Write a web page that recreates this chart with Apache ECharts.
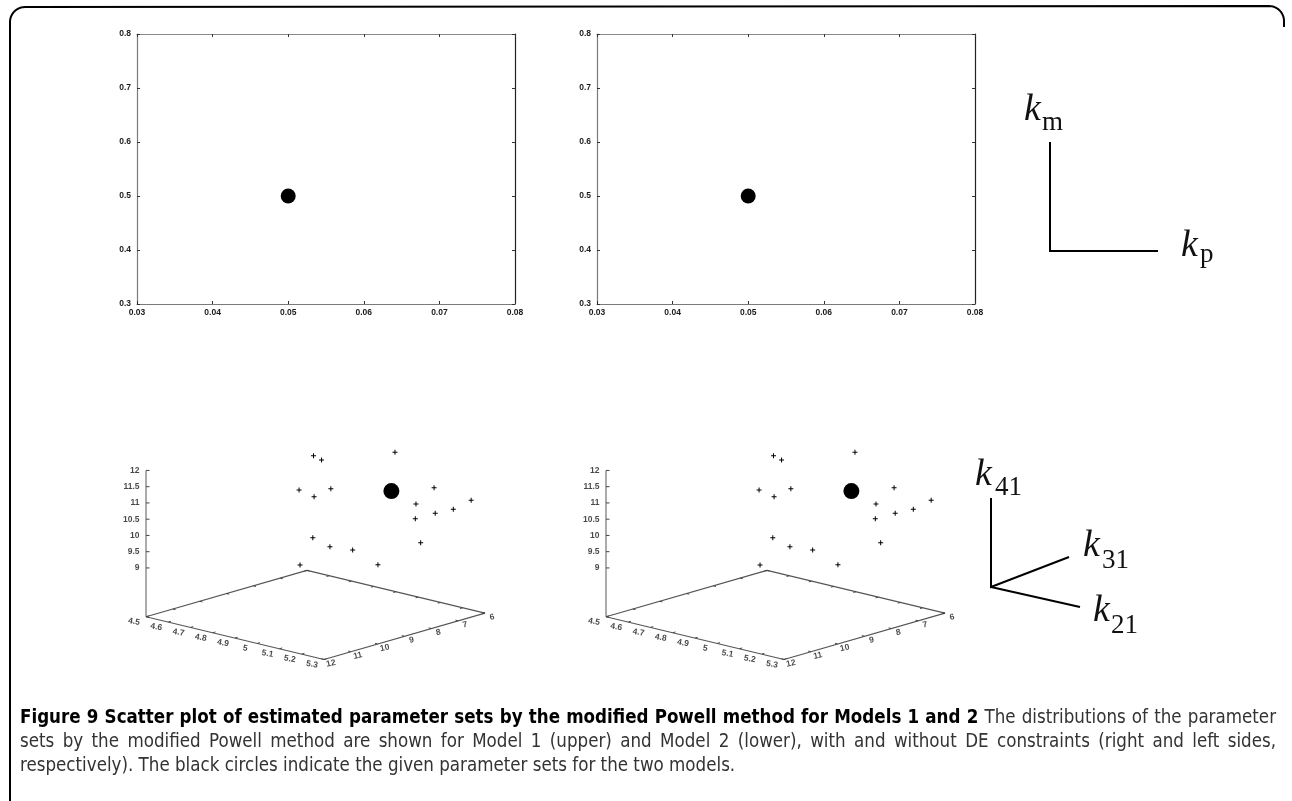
<!DOCTYPE html>
<html><head><meta charset="utf-8">
<script src="https://cdn.jsdelivr.net/npm/echarts@6/dist/echarts.min.js"></script>
<style>html,body{margin:0;padding:0;background:#fff;}#c{width:1292px;height:801px;}</style>
</head><body><div id="c"></div>
<script>
// ---------------- DATA ----------------
// Model 1 (upper panels): kp on x, km on y
const kpTicks = [0.03, 0.04, 0.05, 0.06, 0.07, 0.08];
const kmTicks = [0.3, 0.4, 0.5, 0.6, 0.7, 0.8];
const model1Given = [[0.05, 0.5]];            // [kp, km] black circle
// Model 2 (lower panels): k21, k31, k41
const k21Ticks = [4.5, 4.6, 4.7, 4.8, 4.9, 5.0, 5.1, 5.2, 5.3];
const k31Ticks = [12, 11, 10, 9, 8, 7, 6];
const k41Ticks = [9, 9.5, 10, 10.5, 11, 11.5, 12];
const model2Given = [[5.0, 7.0, 11.0]];       // [k21, k31, k41] black circle
const estK21 = [4.674, 4.703, 4.928, 4.737, 4.887, 4.720, 5.187, 5.143, 5.274, 5.224, 5.186, 5.128, 4.900, 5.152, 4.936, 5.020, 4.880, 5.124];
const estK31 = [7.20, 7.14, 6.27, 8.26, 8.32, 7.56, 6.96, 7.27, 6.30, 6.55, 6.91, 7.17, 9.10, 7.17, 8.76, 8.61, 9.41, 8.53];
const estK41 = [11.6, 11.5, 11.9, 10.9, 11.2, 10.5, 11.4, 10.9, 11.0, 10.7, 10.6, 10.4, 9.9, 9.7, 9.6, 9.6, 9.1, 9.3];
const captionBold = 'Figure 9 Scatter plot of estimated parameter sets by the modified Powell method for Models 1 and 2';
const captionLine1Rest = 'The distributions of the parameter';
const captionLine2 = 'sets by the modified Powell method are shown for Model 1 (upper) and Model 2 (lower), with and without DE constraints (right and left sides,';
const captionLine3 = 'respectively). The black circles indicate the given parameter sets for the two models.';

// ---------------- LAYOUT ----------------
const chart = echarts.init(document.getElementById('c'));
const TICKFONT = {fontSize: 8.5, fontWeight: 'bold', color: '#1a1a1a', fontFamily: '"Liberation Sans", Arial, sans-serif'};
const topPanels = [137, 597];
const grids = [], xAxes = [], yAxes = [], series = [];

topPanels.forEach((left, i) => {
  grids.push({left: left, top: 34, width: 378, height: 270});
  const xb = {type: 'value', gridIndex: i, min: kpTicks[0], max: kpTicks[kpTicks.length - 1], interval: 0.01, splitLine: {show: false}};
  const yb = {type: 'value', gridIndex: i, min: kmTicks[0], max: kmTicks[kmTicks.length - 1], interval: 0.1, splitLine: {show: false}};
  const tick = {inside: true, length: 3, lineStyle: {color: '#333', width: 1}};
  xAxes.push(Object.assign({}, xb, {position: 'bottom', axisLine: {onZero: false, lineStyle: {color: '#7a7a7a', width: 1.2}}, axisTick: tick,
    axisLabel: Object.assign({}, TICKFONT, {margin: 4, formatter: v => v.toFixed(2)})}));
  xAxes.push(Object.assign({}, xb, {position: 'top', axisLine: {onZero: false, lineStyle: {color: '#8a8a8a', width: 1.2}}, axisTick: tick, axisLabel: {show: false}}));
  yAxes.push(Object.assign({}, yb, {position: 'left', axisLine: {onZero: false, lineStyle: {color: '#7a7a7a', width: 1.2}}, axisTick: tick,
    axisLabel: Object.assign({}, TICKFONT, {margin: 6, formatter: v => v.toFixed(1)})}));
  yAxes.push(Object.assign({}, yb, {position: 'right', axisLine: {onZero: false, lineStyle: {color: '#222', width: 1.2}}, axisTick: tick, axisLabel: {show: false}}));
  series.push({type: 'scatter', xAxisIndex: 2 * i, yAxisIndex: 2 * i, data: model1Given, symbol: 'circle', symbolSize: 15,
    itemStyle: {color: '#000', opacity: 1}, silent: true});
});

// overlay pixel grid for the projected 3D panels
grids.push({left: 0, top: 0, width: 1292, height: 801});
xAxes.push({type: 'value', gridIndex: 2, min: 0, max: 1292, show: false, splitLine: {show: false}});
yAxes.push({type: 'value', gridIndex: 2, min: 0, max: 801, inverse: true, show: false, splitLine: {show: false}});
const PX = 4; // axis index of overlay

// view (affine projection of gnuplot splot)
const VIEW = {ox: 146, oy: 616.7, ax: [222.5, 53.4], by: [26.83, -7.72], cz: 32.5, x0: 4.5, y0: 12, zBase: 7.5};
function proj(dx, k21, k31, k41) {
  const a = k21 - VIEW.x0, b = VIEW.y0 - k31, c = k41 - VIEW.zBase;
  return [VIEW.ox + dx + a * VIEW.ax[0] + b * VIEW.by[0], VIEW.oy + a * VIEW.ax[1] + b * VIEW.by[1] - c * VIEW.cz];
}
const xMin = k21Ticks[0], xMax = k21Ticks[k21Ticks.length - 1];
const yMin = Math.min(...k31Ticks), yMax = Math.max(...k31Ticks);
const zMax = Math.max(...k41Ticks), zB = VIEW.zBase;
const fmt = v => String(Math.round(v * 10) / 10);
const CROSS = 'path://M4,0H6V10H4Z M0,4H10V6H0Z';

[0, 460].forEach(dx => {
  const common = {xAxisIndex: PX, yAxisIndex: PX, silent: true, animation: false};
  // base plane
  series.push(Object.assign({type: 'line', symbol: 'none', lineStyle: {color: '#555', width: 1.1},
    data: [proj(dx, xMin, yMax, zB), proj(dx, xMax, yMax, zB), proj(dx, xMax, yMin, zB), proj(dx, xMin, yMin, zB), proj(dx, xMin, yMax, zB)]}, common));
  // vertical z axis
  series.push(Object.assign({type: 'line', symbol: 'none', lineStyle: {color: '#666', width: 1.1},
    data: [proj(dx, xMin, yMax, zB), proj(dx, xMin, yMax, zMax)]}, common));
  // ticks
  const ticks = [];
  k21Ticks.forEach(v => {
    ticks.push([proj(dx, v, yMax, zB), proj(dx, v, yMax - 0.1, zB)]);
    ticks.push([proj(dx, v, yMin, zB), proj(dx, v, yMin + 0.1, zB)]);
  });
  k31Ticks.forEach(v => {
    ticks.push([proj(dx, xMax, v, zB), proj(dx, xMax - 0.012, v, zB)]);
    ticks.push([proj(dx, xMin, v, zB), proj(dx, xMin + 0.012, v, zB)]);
  });
  k41Ticks.forEach(v => {
    const p = proj(dx, xMin, yMax, v);
    ticks.push([p, [p[0] + 3.5, p[1]]]);
  });
  const tickData = [];
  ticks.forEach(s => { tickData.push(s[0], s[1], '-'); });
  series.push(Object.assign({type: 'line', symbol: 'none', connectNulls: false, data: tickData,
    lineStyle: {color: '#444', width: 1}}, common));
  // tick labels
  const lab = (pts, pos, align, rot) => Object.assign({type: 'scatter', symbolSize: 1, itemStyle: {color: 'rgba(0,0,0,0)'},
    label: Object.assign({show: true, position: pos, distance: 6, align: align, verticalAlign: 'middle', rotate: rot, formatter: p => p.name}, TICKFONT),
    data: pts}, common);
  series.push(lab(k41Ticks.map(v => ({name: fmt(v), value: proj(dx, xMin, yMax, v)})), 'left', 'right', 0));
  series.push(lab(k21Ticks.map(v => { const p = proj(dx, v, yMax, zB); return {name: fmt(v), value: [p[0] - 12, p[1] + 5]}; }), 'inside', 'center', -10));
  series.push(lab(k31Ticks.map(v => { const p = proj(dx, xMax, v, zB); return {name: fmt(v), value: [p[0] + 7, p[1] + 4]}; }), 'inside', 'center', 12));
  // points
  series.push(Object.assign({type: 'scatter', symbol: CROSS, symbolSize: 5, itemStyle: {color: '#000', opacity: 1},
    data: estK21.map((v, i) => proj(dx, v, estK31[i], estK41[i]))}, common));
  series.push(Object.assign({type: 'scatter', symbol: 'circle', symbolSize: 16, itemStyle: {color: '#000', opacity: 1},
    data: model2Given.map(p => proj(dx, p[0], p[1], p[2]))}, common));
});

// ---------------- GRAPHICS: frame, orientation keys, caption ----------------
const graphic = [];
function arcPts(cx, cy, r, a0, a1) { const o = []; for (let k = 0; k <= 12; k++) { const a = a0 + (a1 - a0) * k / 12; o.push([cx + r * Math.cos(a), cy + r * Math.sin(a)]); } return o; }
const framePts = [[10, 801]].concat(arcPts(25, 22, 15, Math.PI, 1.5 * Math.PI), arcPts(1269, 21, 15, 1.5 * Math.PI, 2 * Math.PI), [[1284, 27]]);
graphic.push({type: 'polyline', shape: {points: framePts}, style: {stroke: '#000', lineWidth: 2, fill: null}, silent: true});
const SERIF = '"Liberation Serif", "Times New Roman", serif';
function sym(base, sub, kx, subDx, subDrop) {
  const out = [];
  out.push({type: 'text', x: kx, y: base - 0.305 * 38, style: {text: 'k', font: 'italic 38px ' + SERIF, fill: '#111', align: 'left', textAlign: 'left', verticalAlign: 'middle', textVerticalAlign: 'middle'}, silent: true});
  out.push({type: 'text', x: kx + subDx, y: base + subDrop - 0.305 * 27, style: {text: sub, font: '27px ' + SERIF, fill: '#111', align: 'left', textAlign: 'left', verticalAlign: 'middle', textVerticalAlign: 'middle'}, silent: true});
  return out;
}
const line = pts => ({type: 'polyline', shape: {points: pts}, style: {stroke: '#000', lineWidth: 2, fill: null}, silent: true});
graphic.push(line([[1050, 142], [1050, 251], [1158, 251]]));
graphic.push(...sym(122, 'm', 1024, 18, 9));
graphic.push(...sym(258, 'p', 1181, 19, 5));
graphic.push(line([[991, 498], [991, 587], [1069, 557]]));
graphic.push(line([[991, 587], [1080, 607]]));
graphic.push(...sym(487, '41', 975, 20, 9));
graphic.push(...sym(558, '31', 1083, 19, 11));
graphic.push(...sym(623, '21', 1093, 18, 11));

// caption (word-justified like the journal layout)
const CAPFAM = '"Liberation Sans Narrow", "DejaVu Sans Condensed", "Liberation Sans", sans-serif';
const ctx = document.createElement('canvas').getContext('2d');
function w(text, bold, fs) { ctx.font = (bold ? 'bold ' : '') + fs + 'px ' + CAPFAM; return ctx.measureText(text).width; }
const words1 = captionBold.split(' ').map(t => ({t, b: true})).concat(captionLine1Rest.split(' ').map(t => ({t, b: false})));
const words2 = captionLine2.split(' ').map(t => ({t, b: false}));
const words3 = captionLine3.split(' ').map(t => ({t, b: false}));
const CAP_L = 20, CAP_R = 1276;
const natural = f => words1.reduce((s, o) => s + w(o.t, o.b, f), 0) + (words1.length - 1) * w(' ', false, f);
const fs = 16 * (CAP_R - CAP_L) / natural(16) * 0.985;
function layLine(words, y, justify) {
  const sum = words.reduce((s, o) => s + w(o.t, o.b, fs), 0);
  const gap = justify ? (CAP_R - CAP_L - sum) / (words.length - 1) : w(' ', false, fs);
  let x = CAP_L;
  words.forEach(o => {
    graphic.push({type: 'text', x: x, y: y, silent: true, style: {text: o.t, font: (o.b ? 'bold ' : '') + fs + 'px ' + CAPFAM,
      fill: o.b ? '#000' : '#333', align: 'left', textAlign: 'left', verticalAlign: 'middle', textVerticalAlign: 'middle'}});
    x += w(o.t, o.b, fs) + gap;
  });
}
layLine(words1, 718, true);
layLine(words2, 742, true);
layLine(words3, 766, false);

chart.setOption({animation: false, grid: grids, xAxis: xAxes, yAxis: yAxes, series: series, graphic: graphic});
</script></body></html>
